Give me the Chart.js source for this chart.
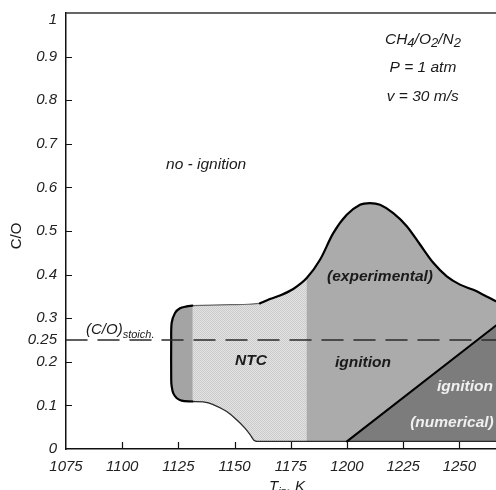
<!DOCTYPE html>
<html>
<head>
<meta charset="utf-8">
<script src="https://cdn.jsdelivr.net/npm/chart.js@4.4.0/dist/chart.umd.min.js"></script>
<style>
  html, body { margin: 0; padding: 0; background: #fff; }
  canvas { display: block; }
</style>
</head>
<body>
<canvas id="chart" width="496" height="490"></canvas>
<script>
// axis ticks
const xTicks = [1075, 1100, 1125, 1150, 1175, 1200, 1225, 1250];
const yTicks = [0, 0.1, 0.2, 0.25, 0.3, 0.4, 0.5, 0.6, 0.7, 0.8, 0.9, 1];

// stoichiometric C/O
const stoichCO = 0.25;

// experimental ignition region, rounded left cap (top -> bottom)
const capT  = [1131.2, 1128.7, 1125.7, 1123.5, 1122.0, 1121.8, 1121.8, 1122.0, 1122.7, 1124.2, 1126.4, 1131.2];
const capCO = [0.329, 0.327, 0.323, 0.312, 0.289, 0.25, 0.16, 0.144, 0.128, 0.117, 0.111, 0.109];

// upper boundary, left -> right
const upperT  = [1131.2, 1140, 1148, 1156, 1161.3, 1165.7, 1170.2, 1176.1, 1182.1, 1188.0, 1193.9, 1199.9,
                 1205.8, 1210.2, 1214.7, 1220.6, 1226.6, 1232.5, 1238.4, 1244.4, 1250.3, 1256.2, 1262.1, 1266.3, 1272];
const upperCO = [0.329, 0.330, 0.331, 0.332, 0.334, 0.344, 0.352, 0.367, 0.392, 0.434, 0.495, 0.537,
                 0.560, 0.564, 0.560, 0.541, 0.511, 0.469, 0.427, 0.396, 0.377, 0.365, 0.350, 0.339, 0.325];

// lower boundary, left -> right
const lowerT  = [1131.2, 1136.1, 1140.5, 1146.5, 1150.9, 1154.6, 1156.9, 1158.6, 1159.8, 1272];
const lowerCO = [0.109, 0.108, 0.102, 0.086, 0.067, 0.048, 0.033, 0.020, 0.0174, 0.0174];

// NTC band (K)
const ntcFrom = 1131.2;
const ntcTo = 1182.1;

// numerical ignition limit
const numT  = [1200, 1272];
const numCO = [0.0174, 0.306];

function pts(xs, ys) {
  return xs.map((x, i) => ({ x: x, y: ys[i] }));
}

const cap = pts(capT, capCO);
const upper = pts(upperT, upperCO);
const lower = pts(lowerT, lowerCO);
const floorCO = lowerCO[lowerCO.length - 1];

// whole experimental region as one closed shape
const outerShape = cap.concat(lower.slice(1), upper.slice().reverse());

// NTC slice between the cap and the experimental part
const ntcShape = upper.filter(p => p.x >= ntcFrom && p.x <= ntcTo)
  .concat([{ x: ntcTo, y: floorCO }], lower.filter(p => p.x <= ntcTo).reverse());

const numShape = [{ x: numT[1], y: numCO[0] }, { x: numT[0], y: numCO[0] }, { x: numT[1], y: numCO[1] }];

const capOutline = cap.slice().reverse();
const upperThin = upper.filter(p => p.x <= 1161.3);
const upperThick = upper.filter(p => p.x >= 1161.3);
const lowerCurve = lower.filter(p => p.x <= 1159.8);
const lowerFlat = lower.filter(p => p.x >= 1159.8);

function makeStipple() {
  const c = document.createElement('canvas');
  c.width = 2; c.height = 2;
  const g = c.getContext('2d');
  g.fillStyle = '#e3e3e3';
  g.fillRect(0, 0, 2, 2);
  g.fillStyle = '#cbcbcb';
  g.fillRect(0, 0, 1, 1);
  g.fillRect(1, 1, 1, 1);
  return g.createPattern(c, 'repeat');
}

function fillSet(data, color, order) {
  return { data: data, fill: 'shape', backgroundColor: color, borderColor: 'transparent',
           borderWidth: 0, pointRadius: 0, tension: 0, order: order };
}

function lineSet(data, color, width, order, dash, tension) {
  return { data: data, fill: false, borderColor: color, borderWidth: width, pointRadius: 0,
           borderDash: dash || [], borderCapStyle: 'round', borderJoinStyle: 'round',
           tension: tension || 0, order: order };
}

const FONT = '"Liberation Sans", Arial, sans-serif';

// text annotations in data coordinates
const notes = [
  { text: 'no - ignition', t: 1119.5, co: 0.652, align: 'left', bold: false, color: '#1a1a1a' },
  { text: '(experimental)', t: 1214.7, co: 0.3945, align: 'center', bold: true, color: '#1a1a1a' },
  { text: 'NTC', t: 1157.3, co: 0.203, align: 'center', bold: true, color: '#1a1a1a' },
  { text: 'ignition', t: 1207.1, co: 0.1986, align: 'center', bold: true, color: '#1a1a1a' },
  { text: 'ignition', t: 1252.5, co: 0.1422, align: 'center', bold: true, color: '#f0f0f0' },
  { text: '(numerical)', t: 1246.7, co: 0.061, align: 'center', bold: true, color: '#f0f0f0' },
  { text: 'P = 1 atm', t: 1233.8, co: 0.874, align: 'center', bold: false, color: '#1a1a1a' },
  { text: 'v = 30 m/s', t: 1233.7, co: 0.809, align: 'center', bold: false, color: '#1a1a1a' }
];

function drawRich(ctx, parts, x0, y0, align) {
  let w = 0;
  parts.forEach(p => { ctx.font = p.font; w += ctx.measureText(p.t).width; });
  let x = align === 'center' ? x0 - w / 2 : x0;
  ctx.textAlign = 'left';
  parts.forEach(p => {
    ctx.font = p.font;
    ctx.fillText(p.t, x, y0 + (p.dy || 0));
    x += ctx.measureText(p.t).width;
  });
}

const decorations = {
  id: 'decorations',
  afterDraw(chart) {
    const { ctx, chartArea: a, scales: { x, y } } = chart;
    ctx.save();

    // top frame
    ctx.strokeStyle = '#333';
    ctx.lineWidth = 1.5;
    ctx.beginPath();
    ctx.moveTo(a.left, a.top);
    ctx.lineTo(a.right, a.top);
    ctx.stroke();

    // inner tick marks
    ctx.strokeStyle = '#111';
    ctx.lineWidth = 1.2;
    ctx.beginPath();
    yTicks.forEach(v => {
      if (v === 0 || v === 1 || v === stoichCO) return;
      const py = Math.round(y.getPixelForValue(v)) + 0.5;
      ctx.moveTo(a.left, py);
      ctx.lineTo(a.left + 6, py);
    });
    xTicks.forEach(v => {
      if (v === xTicks[0]) return;
      const px = Math.round(x.getPixelForValue(v)) + 0.5;
      ctx.moveTo(px, a.bottom);
      ctx.lineTo(px, a.bottom - 7);
    });
    ctx.stroke();

    // top y label sits below its tick
    ctx.fillStyle = '#222';
    ctx.font = 'italic 15px ' + FONT;
    ctx.textAlign = 'right';
    ctx.textBaseline = 'middle';
    ctx.fillText('1', a.left - 9, a.top + 7);

    // annotations
    notes.forEach(n => {
      ctx.font = (n.bold ? 'italic bold 15.5px ' : 'italic 15.5px ') + FONT;
      ctx.fillStyle = n.color;
      ctx.textAlign = n.align;
      ctx.fillText(n.text, x.getPixelForValue(n.t), y.getPixelForValue(n.co));
    });

    ctx.fillStyle = '#1a1a1a';
    const main = 'italic 15.5px ' + FONT;
    const sub = 'italic 13px ' + FONT;
    drawRich(ctx, [
      { t: 'CH', font: main }, { t: '4', font: sub, dy: 4 },
      { t: '/O', font: main }, { t: '2', font: sub, dy: 4 },
      { t: '/N', font: main }, { t: '2', font: sub, dy: 4 }
    ], x.getPixelForValue(1233.8), y.getPixelForValue(0.939), 'center');

    drawRich(ctx, [
      { t: '(C/O)', font: 'italic 15px ' + FONT },
      { t: 'stoich.', font: 'italic 11px ' + FONT, dy: 5 }
    ], x.getPixelForValue(1083.9), y.getPixelForValue(0.273), 'left');

    // axis titles
    ctx.textBaseline = 'alphabetic';
    drawRich(ctx, [
      { t: 'T', font: 'italic 15px ' + FONT },
      { t: 'in', font: 'italic 11px ' + FONT, dy: 4 },
      { t: ', K', font: 'italic 15px ' + FONT }
    ], x.getPixelForValue(1165.3), chart.height + 1, 'left');

    ctx.translate(17, (a.top + a.bottom) / 2 + 5);
    ctx.rotate(-Math.PI / 2);
    ctx.font = '15px ' + FONT;
    ctx.textAlign = 'center';
    ctx.textBaseline = 'middle';
    ctx.fillText('C/O', 0, 0);

    ctx.restore();
  }
};

const tickFont = { family: FONT, size: 15, style: 'italic' };

new Chart(document.getElementById('chart'), {
  type: 'line',
  data: {
    datasets: [
      lineSet([{ x: xTicks[0], y: stoichCO }, { x: 1272, y: stoichCO }], '#2a2a2a', 1.5, 0, [21, 11]),
      lineSet(pts(numT, numCO), '#000', 2, 1),
      lineSet(capOutline, '#000', 2.2, 2, null, 0.3),
      lineSet(upperThick, '#000', 2.2, 3, null, 0.3),
      lineSet(upperThin, '#666', 1.2, 4, null, 0.3),
      lineSet(lowerCurve, '#2a2a2a', 1.3, 5, null, 0.3),
      lineSet(lowerFlat, '#2a2a2a', 1.3, 5),
      fillSet(numShape, '#7c7c7c', 6),
      fillSet(cap, '#a4a4a4', 7),
      fillSet(ntcShape, makeStipple(), 8),
      fillSet(outerShape, '#ababab', 9)
    ]
  },
  options: {
    responsive: false,
    animation: false,
    events: [],
    layout: { padding: { top: 13, right: 0, left: 0, bottom: 0 } },
    plugins: { legend: { display: false }, tooltip: { enabled: false } },
    scales: {
      x: {
        type: 'linear',
        min: 1075,
        max: 1266.3,
        afterBuildTicks: scale => { scale.ticks = xTicks.map(v => ({ value: v })); },
        afterFit: scale => { scale.height = 41; scale.paddingLeft = 0; scale.paddingRight = 0; },
        grid: { display: false, drawTicks: false },
        border: { display: true, color: '#111', width: 1.5 },
        ticks: {
          font: tickFont, color: '#222', padding: 9, maxRotation: 0, autoSkip: false,
          callback: v => String(v)
        }
      },
      y: {
        type: 'linear',
        min: 0,
        max: 1,
        afterBuildTicks: scale => { scale.ticks = yTicks.map(v => ({ value: v })); },
        afterFit: scale => { scale.width = 66; scale.paddingTop = 0; scale.paddingBottom = 0; },
        grid: { display: false, drawTicks: false },
        border: { display: true, color: '#111', width: 1.5 },
        ticks: {
          font: tickFont, color: '#222', padding: 9, autoSkip: false,
          callback: v => (v === 1 ? '' : String(v))
        }
      }
    }
  },
  plugins: [decorations]
});
</script>
</body>
</html>
